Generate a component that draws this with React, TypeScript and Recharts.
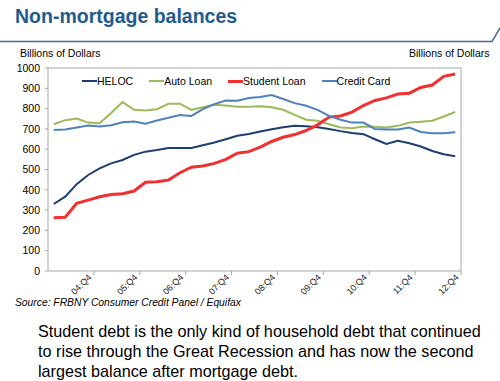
import { LineChart, Line, XAxis, YAxis, ReferenceLine, Legend } from "recharts"

const quarters = [
  "04:Q1", "04:Q2", "04:Q3", "04:Q4",
  "05:Q1", "05:Q2", "05:Q3", "05:Q4",
  "06:Q1", "06:Q2", "06:Q3", "06:Q4",
  "07:Q1", "07:Q2", "07:Q3", "07:Q4",
  "08:Q1", "08:Q2", "08:Q3", "08:Q4",
  "09:Q1", "09:Q2", "09:Q3", "09:Q4",
  "10:Q1", "10:Q2", "10:Q3", "10:Q4",
  "11:Q1", "11:Q2", "11:Q3", "11:Q4",
  "12:Q1", "12:Q2", "12:Q3", "12:Q4",
]

const heloc = [330, 366, 428, 473, 506, 530, 547, 572, 588, 596, 606, 606, 606, 619, 633, 649, 666, 675, 687, 698, 708, 715, 713, 708, 700, 689, 680, 674, 649, 626, 641, 629, 613, 591, 575, 565]
const autoLoan = [723, 743, 751, 731, 728, 778, 832, 794, 791, 797, 824, 824, 794, 807, 819, 815, 809, 809, 811, 807, 794, 769, 745, 740, 723, 707, 703, 712, 710, 707, 715, 731, 735, 740, 761, 783]
const studentLoan = [262, 265, 333, 349, 366, 377, 381, 394, 437, 440, 448, 484, 511, 517, 530, 550, 580, 588, 610, 638, 659, 672, 692, 720, 758, 764, 783, 815, 840, 853, 872, 876, 904, 916, 959, 970]
const creditCard = [695, 697, 707, 717, 712, 718, 733, 736, 725, 741, 755, 768, 764, 797, 822, 840, 839, 852, 857, 867, 847, 827, 814, 794, 764, 745, 731, 731, 700, 697, 697, 707, 685, 679, 679, 684]

const yTicks = [0, 100, 200, 300, 400, 500, 600, 700, 800, 900, 1000]
const legendOrder = ["HELOC", "Auto Loan", "Student Loan", "Credit Card"]

const data = quarters.map((q, i) => ({
  q,
  heloc: heloc[i],
  auto: autoLoan[i],
  student: studentLoan[i],
  credit: creditCard[i],
}))

const FONT = '"Liberation Sans", Arial, sans-serif'
const AXIS = "#a6a6a6"
const HALF_BAND = 5.75

function QuarterTick(props: any) {
  const { x, y, payload } = props
  const label: string = payload.value
  if (!label.endsWith("Q4")) return null
  const edge = x + HALF_BAND
  return (
    <g>
      <line x1={edge} y1={y} x2={edge} y2={y + 4} stroke={AXIS} />
      <text
        x={x + 4}
        y={y + 7}
        textAnchor="end"
        fontSize={9}
        fill="#222"
        transform={`rotate(-45 ${x + 4} ${y + 7})`}
      >
        {label}
      </text>
    </g>
  )
}

function LegendContent(props: any) {
  const items = [...(props.payload || [])].sort(
    (a: any, b: any) => legendOrder.indexOf(a.value) - legendOrder.indexOf(b.value)
  )
  return (
    <div style={{ display: "flex", gap: 16, fontSize: 10.5, fontFamily: FONT, color: "#000", whiteSpace: "nowrap" }}>
      {items.map((it: any) => (
        <div key={it.value} style={{ display: "flex", alignItems: "center" }}>
          <span style={{ display: "inline-block", width: 15, height: it.value === "Student Loan" ? 3 : 2, background: it.color }} />
          <span>{it.value}</span>
        </div>
      ))}
    </div>
  )
}

export default function App() {
  return (
    <div style={{ position: "absolute", left: 0, top: 0, width: 500, height: 381, background: "#fff", fontFamily: FONT, overflow: "hidden" }}>
      <div style={{ position: "absolute", left: 15, top: 5, fontSize: 19.5, fontWeight: "bold", color: "#215a8f" }}>
        Non-mortgage balances
      </div>
      <svg width={500} height={50} style={{ position: "absolute", left: 0, top: 0 }}>
        <polyline points="0,41.5 492,41.5 500,28" fill="none" stroke="#4a6b95" strokeWidth={1.5} />
      </svg>
      <div style={{ position: "absolute", left: 20, top: 47, fontSize: 10.5 }}>Billions of Dollars</div>
      <div style={{ position: "absolute", left: 409, top: 47, fontSize: 10.5 }}>Billions of Dollars</div>

      <div style={{ position: "absolute", left: 0, top: 0 }}>
        <LineChart width={500} height={381} data={data} margin={{ top: 68, right: 9, bottom: 80, left: 8 }}>
          <XAxis
            dataKey="q"
            interval={0}
            tickSize={0}
            tickMargin={0}
            height={30}
            padding={{ left: HALF_BAND, right: HALF_BAND }}
            axisLine={{ stroke: AXIS }}
            tick={<QuarterTick />}
          />
          <YAxis
            yAxisId="left"
            width={40}
            domain={[0, 1000]}
            ticks={yTicks}
            interval={0}
            tickSize={3}
            tickMargin={5}
            axisLine={{ stroke: AXIS }}
            tickLine={{ stroke: AXIS }}
            tick={{ fontSize: 10.5, fill: "#000", fontFamily: FONT }}
          />
          <YAxis
            yAxisId="right"
            orientation="right"
            width={30}
            domain={[0, 1000]}
            ticks={yTicks}
            interval={0}
            tickSize={3}
            tickMargin={6}
            axisLine={{ stroke: AXIS }}
            tickLine={{ stroke: AXIS }}
            tick={{ fontSize: 10.5, fill: "#000", fontFamily: FONT, textAnchor: "start" }}
          />
          <ReferenceLine yAxisId="left" y={1000} stroke={AXIS} />
          <Legend
            layout="horizontal"
            verticalAlign="middle"
            align="center"
            content={<LegendContent />}
            wrapperStyle={{ top: 75, left: 82, width: "auto" }}
          />
          <Line yAxisId="left" dataKey="heloc" name="HELOC" stroke="#1b3f72" strokeWidth={2} dot={false} isAnimationActive={false} />
          <Line yAxisId="left" dataKey="auto" name="Auto Loan" stroke="#9bbb59" strokeWidth={2} dot={false} isAnimationActive={false} />
          <Line yAxisId="left" dataKey="student" name="Student Loan" stroke="#f23030" strokeWidth={3} dot={false} isAnimationActive={false} />
          <Line yAxisId="left" dataKey="credit" name="Credit Card" stroke="#4f81bd" strokeWidth={2} dot={false} isAnimationActive={false} />
        </LineChart>
      </div>

      <div style={{ position: "absolute", left: 15, top: 297, fontSize: 10.3, fontStyle: "italic" }}>
        Source: FRBNY Consumer Credit Panel / Equifax
      </div>
      <div style={{ position: "absolute", left: 38, top: 321, fontSize: 16.2, lineHeight: "20px", color: "#000" }}>
        Student debt is the only kind of household debt that continued
        <br />
        to rise through the Great Recession and has now the second
        <br />
        largest balance after mortgage debt.
      </div>
    </div>
  )
}
